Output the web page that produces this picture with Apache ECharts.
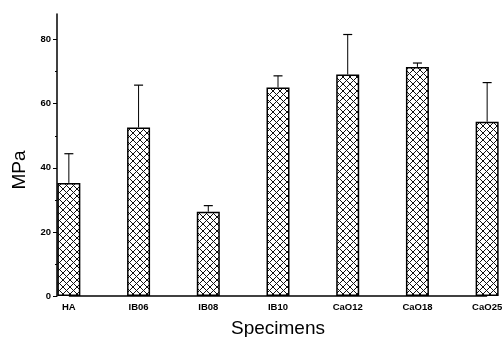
<!DOCTYPE html>
<html><head><meta charset="utf-8">
<script src="https://cdn.jsdelivr.net/npm/echarts@6/dist/echarts.min.js"></script>
<style>html,body{margin:0;padding:0;background:#fff}#c{width:504px;height:337px}</style>
</head><body><div id="c"></div>
<script>
const categories = ['HA','IB06','IB08','IB10','CaO12','CaO18','CaO25'];
const means = [35.3, 52.6, 26.3, 65.1, 69.1, 71.5, 54.4];
const upperErr = [44.4, 65.8, 28.2, 68.7, 81.6, 72.7, 66.6];
const majorTicks = [0, 20, 40, 60, 80];
const minorTicks = [10, 30, 50, 70];

const pc = document.createElement('canvas');
pc.width = 7; pc.height = 7;
const g = pc.getContext('2d');
g.fillStyle = '#fff'; g.fillRect(0,0,7,7);
g.strokeStyle = '#111'; g.lineWidth = 1;
g.beginPath(); g.moveTo(0,0); g.lineTo(7,7); g.moveTo(7,0); g.lineTo(0,7); g.stroke();

const chart = echarts.init(document.getElementById('c'), null, {renderer:'canvas'});
const tickFont = {fontFamily:"'Liberation Sans Narrow','Arial Narrow','Liberation Sans',sans-serif", fontWeight:'bold', fontSize:9.5, color:'#000'};
chart.setOption({
  animation:false,
  grid:{left:34, right:-18, top:14, bottom:41, outerBoundsMode:'none', containLabel:false},
  xAxis:{type:'category', data:categories, boundaryGap:true,
    axisLine:{show:false}, axisTick:{show:false},
    axisLabel:Object.assign({margin:6, interval:0}, tickFont),
    name:'Specimens', nameLocation:'middle', nameGap:23,
    nameTextStyle:{fontFamily:"'Liberation Sans',Arial,sans-serif", fontSize:19, color:'#000'}
  },
  yAxis:[{type:'value', min:0, max:88, offset:-23,
    axisLine:{show:true, lineStyle:{color:'#000', width:1.5}},
    axisTick:{show:true, customValues:majorTicks, length:4, lineStyle:{color:'#000', width:1}},
    axisLabel:Object.assign({customValues:majorTicks, margin:6}, tickFont),
    splitLine:{show:false},
    name:'MPa', nameLocation:'middle', nameRotate:90, nameGap:22,
    nameTextStyle:{fontFamily:"'Liberation Sans',Arial,sans-serif", fontSize:19, color:'#000', padding:[0,30,0,0]}
  },{type:'value', min:0, max:88, offset:-23, position:'left',
    axisLine:{show:false},
    axisTick:{show:true, customValues:minorTicks, length:2, lineStyle:{color:'#000', width:1}},
    axisLabel:{show:false}, splitLine:{show:false}
  }],
  series:[{
    type:'bar', data:means, barWidth:23, z:3,
    itemStyle:{color:{image:pc, repeat:'repeat'}, borderColor:'#000', borderWidth:1.5},
    markLine:{silent:true, symbol:'none', label:{show:false}, z:2,
      lineStyle:{color:'#000', width:1.5, type:'solid'},
      data:[[{coord:[categories[0],0]},{coord:[categories[categories.length-1],0]}]]}
  },{
    type:'custom', z:4,
    data:categories.map((c,i)=>[i, means[i], upperErr[i]]),
    renderItem:function(params, api){
      const base = api.coord([api.value(0), api.value(1)]);
      const top = api.coord([api.value(0), api.value(2)]);
      return {type:'group', children:[
        {type:'line', shape:{x1:base[0], y1:base[1], x2:top[0], y2:top[1]}, style:{stroke:'#000', lineWidth:1}},
        {type:'line', shape:{x1:top[0]-4.5, y1:top[1], x2:top[0]+4.5, y2:top[1]}, style:{stroke:'#000', lineWidth:1.2}}
      ]};
    }
  }]
});
</script></body></html>
